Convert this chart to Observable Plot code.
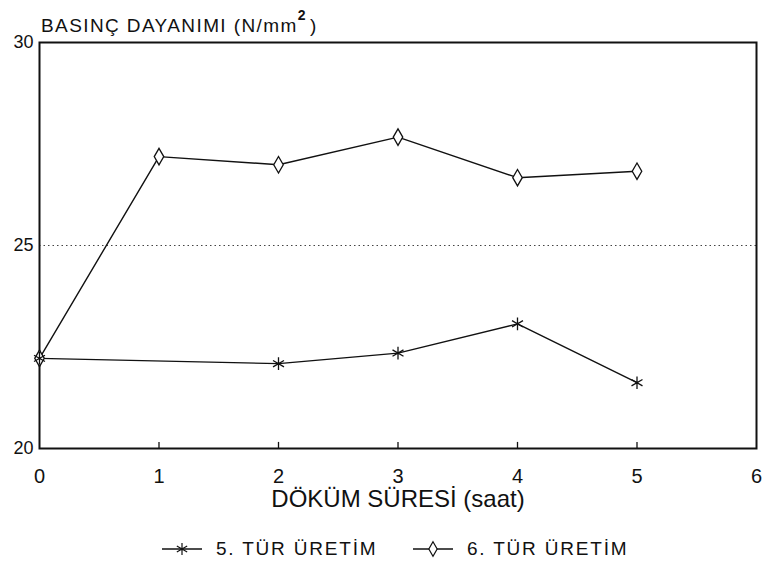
<!DOCTYPE html>
<html><head><meta charset="utf-8">
<script src="https://cdn.jsdelivr.net/npm/d3@7"></script>
<script src="https://cdn.jsdelivr.net/npm/@observablehq/plot@0.6"></script>
<style>
body{margin:0;background:#fff;font-family:"Liberation Sans",Arial,sans-serif;color:#111;width:762px;height:569px;overflow:hidden}
#title{position:relative;height:30px;font-size:19px;letter-spacing:1.4px}
#title span.t{position:absolute;left:41px;top:12px;white-space:nowrap;line-height:normal}
#title sup{font-size:14px;font-weight:bold;position:relative;top:-5px;margin-left:0;margin-right:3px;vertical-align:super}
#chart{height:490px}
#legend{position:relative;height:49px;font-size:19px;letter-spacing:1.8px}
.item{position:absolute;top:18px;display:flex;align-items:center;white-space:nowrap;line-height:normal}
.item svg{margin-right:14px}
</style></head><body>
<div id="title"><span class="t">BASINÇ DAYANIMI (N/mm<sup>2</sup>)</span></div>
<div id="chart"></div>
<div id="legend"></div>
<script>
const xTicks = [0, 1, 2, 3, 4, 5, 6];
const yTicks = [20, 25, 30];
const gridValues = [25];
const seriesNames = ["5. TÜR ÜRETİM", "6. TÜR ÜRETİM"];
const tur5Hours = [0, 2, 3, 4, 5];
const tur5Values = [22.22, 22.09, 22.35, 23.07, 21.62];
const tur6Hours = [0, 1, 2, 3, 4, 5];
const tur6Values = [22.22, 27.19, 26.99, 27.67, 26.67, 26.83];
const xLabel = "DÖKÜM SÜRESİ (saat)";

const s5 = tur5Hours.map((h, i) => ({h, v: tur5Values[i]}));
const s6 = tur6Hours.map((h, i) => ({h, v: tur6Values[i]}));
const ink = "#111";
const font = '"Liberation Sans", Arial, sans-serif';

const plot = Plot.plot({
  width: 762, height: 490,
  marginLeft: 39, marginRight: 6, marginTop: 12, marginBottom: 72,
  style: {fontFamily: font, fontSize: "18px", color: ink, background: "white"},
  x: {domain: [0, 6], label: null},
  y: {domain: [20, 30], label: null},
  marks: [
    Plot.ruleY(gridValues, {stroke: "#444", strokeDasharray: "1.5,3", strokeWidth: 1}),
    Plot.axisY(yTicks, {tickSize: 0, tickPadding: 6, fontSize: 18, letterSpacing: 1, tickFormat: d3.format("d"), label: null}),
    Plot.axisX(xTicks, {tickSize: 0, tickPadding: 20, fontSize: 20, tickFormat: d3.format("d"), label: null}),
    Plot.ruleX(xTicks.slice(1, 6), {y1: 20, y2: 20.15, stroke: ink, strokeWidth: 1.3}),
    Plot.frame({stroke: ink, strokeWidth: 2}),
    Plot.line(s5, {x: "h", y: "v", stroke: ink, strokeWidth: 1.4}),
    Plot.line(s6, {x: "h", y: "v", stroke: ink, strokeWidth: 1.4}),
    Plot.dot(s6, {x: "h", y: "v", symbol: "diamond", r: 5, fill: "white", stroke: ink, strokeWidth: 1.3}),
    Plot.dot(s5, {x: "h", y: "v", symbol: "asterisk", r: 6, stroke: ink, strokeWidth: 1.3}),
    Plot.text([xLabel], {frameAnchor: "bottom", dy: 58, fontSize: 24, letterSpacing: 1.3, fill: ink})
  ]
});
document.getElementById("chart").appendChild(plot);

// legend
const legend = document.getElementById("legend");
const symbols = [d3.symbolAsterisk, d3.symbolDiamond];
const fills = ["none", "white"];
const lefts = [162, 413];
seriesNames.forEach((name, i) => {
  const item = document.createElement("div");
  item.className = "item";
  item.style.left = lefts[i] + "px";
  const w = 40, h = 18;
  const sv = d3.create("svg").attr("width", w).attr("height", h);
  sv.append("line").attr("x1", 0).attr("x2", w).attr("y1", h / 2).attr("y2", h / 2).attr("stroke", ink).attr("stroke-width", 1.3);
  sv.append("path").attr("transform", `translate(${w / 2},${h / 2})`)
    .attr("d", d3.symbol(symbols[i], i === 0 ? 100 : 60)())
    .attr("fill", fills[i]).attr("stroke", ink).attr("stroke-width", 1.2);
  item.appendChild(sv.node());
  const t = document.createElement("span");
  t.textContent = name;
  item.appendChild(t);
  legend.appendChild(item);
});
</script>
</body></html>
